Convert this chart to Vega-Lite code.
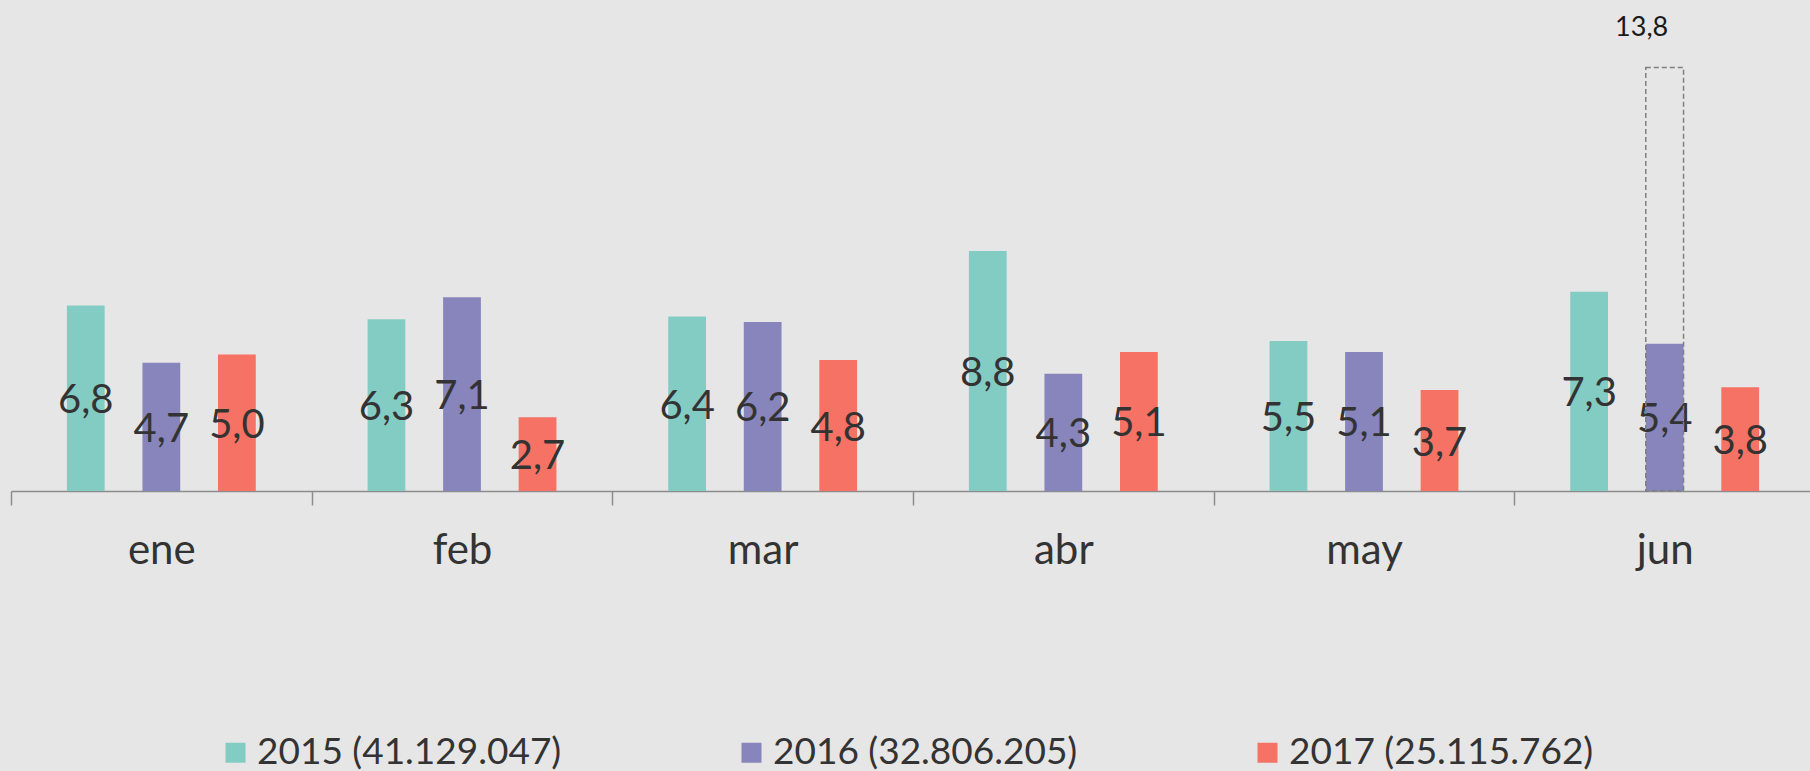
{
  "$schema": "https://vega.github.io/schema/vega-lite/v6.json",
  "width": 1804,
  "height": 491,
  "autosize": {"type": "none"},
  "padding": {"left": 11, "top": 0, "right": 0, "bottom": 280},
  "background": "#e6e6e6",
  "config": {
    "view": {"stroke": null},
    "font": "Lato",
    "locale": {"number": {"decimal": ",", "thousands": ".", "grouping": [3], "currency": ["", " €"]}}
  },
  "datasets": {
    "main": [
      {"month": "ene", "series": "2015 (41.129.047)", "value": 6.8},
      {"month": "ene", "series": "2016 (32.806.205)", "value": 4.7},
      {"month": "ene", "series": "2017 (25.115.762)", "value": 5.0},
      {"month": "feb", "series": "2015 (41.129.047)", "value": 6.3},
      {"month": "feb", "series": "2016 (32.806.205)", "value": 7.1},
      {"month": "feb", "series": "2017 (25.115.762)", "value": 2.7},
      {"month": "mar", "series": "2015 (41.129.047)", "value": 6.4},
      {"month": "mar", "series": "2016 (32.806.205)", "value": 6.2},
      {"month": "mar", "series": "2017 (25.115.762)", "value": 4.8},
      {"month": "abr", "series": "2015 (41.129.047)", "value": 8.8},
      {"month": "abr", "series": "2016 (32.806.205)", "value": 4.3},
      {"month": "abr", "series": "2017 (25.115.762)", "value": 5.1},
      {"month": "may", "series": "2015 (41.129.047)", "value": 5.5},
      {"month": "may", "series": "2016 (32.806.205)", "value": 5.1},
      {"month": "may", "series": "2017 (25.115.762)", "value": 3.7},
      {"month": "jun", "series": "2015 (41.129.047)", "value": 7.3},
      {"month": "jun", "series": "2016 (32.806.205)", "value": 5.4},
      {"month": "jun", "series": "2017 (25.115.762)", "value": 3.8}
    ],
    "ref": [
      {"month": "jun", "series": "2016 (32.806.205)", "value": 13.8}
    ]
  },
  "layer": [
    {
      "data": {"name": "main"},
      "mark": {"type": "bar"},
      "encoding": {
        "x": {
          "field": "month", "type": "nominal", "sort": ["ene", "feb", "mar", "abr", "may", "jun"],
          "scale": {"paddingInner": 0, "paddingOuter": 0},
          "axis": {
            "title": null, "labelAngle": 0, "tickBand": "extent", "grid": false,
            "labelFontSize": 42, "labelColor": "#333333", "labelBaseline": "alphabetic",
            "labelPadding": 58, "tickSize": 14, "tickColor": "#8c8c8c", "domainColor": "#8c8c8c",
            "domainWidth": 1.5, "tickWidth": 1.5
          }
        },
        "xOffset": {
          "field": "series", "type": "nominal",
          "scale": {"paddingInner": 0.5, "paddingOuter": 0.74}
        },
        "y": {"field": "value", "type": "quantitative", "scale": {"domain": [0, 18]}, "axis": null},
        "color": {
          "field": "series", "type": "nominal",
          "scale": {"domain": ["2015 (41.129.047)", "2016 (32.806.205)", "2017 (25.115.762)"], "range": ["#83ccc4", "#8785bb", "#f67264"]},
          "legend": {
            "title": null, "orient": "none", "legendX": 206, "legendY": 734, "direction": "horizontal", "symbolType": "square",
            "symbolSize": 400, "symbolOpacity": 1, "symbolStrokeWidth": 0, "labelFontSize": 37,
            "labelColor": "#333333", "columnPadding": 171, "labelOffset": 3, "labelLimit": 500, "gridAlign": "all"
          }
        }
      }
    },
    {
      "data": {"name": "main"},
      "mark": {"type": "text", "baseline": "middle", "dy": 3, "fontSize": 40, "color": "#333333"},
      "encoding": {
        "x": {"field": "month", "type": "nominal", "sort": ["ene", "feb", "mar", "abr", "may", "jun"]},
        "xOffset": {"field": "series", "type": "nominal"},
        "y": {"field": "value", "type": "quantitative", "scale": {"domain": [0, 36]}, "axis": null},
        "text": {"field": "value", "type": "quantitative", "format": ".1f"}
      }
    },
    {
      "data": {"name": "ref"},
      "layer": [
        {
          "mark": {"type": "bar", "fill": null, "fillOpacity": 0, "stroke": "#7f7f7f", "strokeWidth": 1.5, "strokeDash": [5, 3]},
          "encoding": {
            "x": {"field": "month", "type": "nominal", "sort": ["ene", "feb", "mar", "abr", "may", "jun"]},
            "xOffset": {"field": "series", "type": "nominal"},
            "y": {"field": "value", "type": "quantitative", "scale": {"domain": [0, 16]}, "axis": null}
          }
        },
        {
          "mark": {"type": "text", "baseline": "middle", "dy": -40, "dx": -23, "fontSize": 27, "color": "#1a1a1a"},
          "encoding": {
            "x": {"field": "month", "type": "nominal", "sort": ["ene", "feb", "mar", "abr", "may", "jun"]},
            "xOffset": {"field": "series", "type": "nominal"},
            "y": {"field": "value", "type": "quantitative", "scale": {"domain": [0, 16]}, "axis": null},
            "text": {"field": "value", "type": "quantitative", "format": ".1f"}
          }
        }
      ]
    }
  ],
  "resolve": {"scale": {"y": "independent"}}
}
